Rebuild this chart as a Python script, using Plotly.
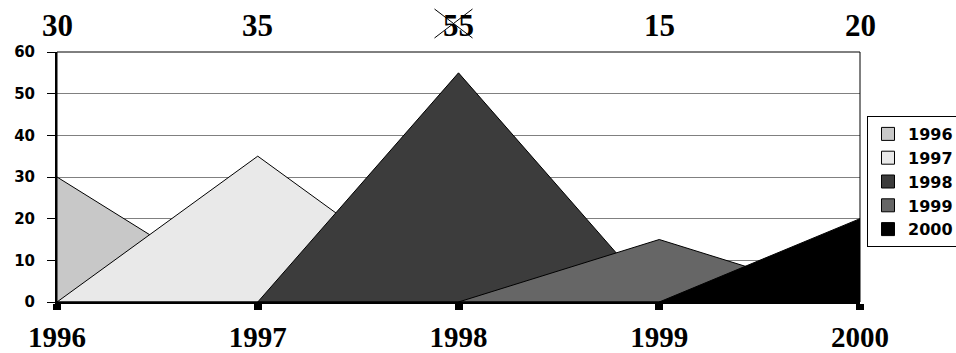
import plotly.graph_objects as go

years = [1996, 1997, 1998, 1999, 2000]
values = [30, 35, 55, 15, 20]
series_names = ["1996", "1997", "1998", "1999", "2000"]
colors = ["#c8c8c8", "#e9e9e9", "#3c3c3c", "#666666", "#000000"]
y_ticks = [0, 10, 20, 30, 40, 50, 60]

SERIF = "Liberation Serif, Times New Roman, serif"
SANS = "DejaVu Sans, Arial, sans-serif"

fig = go.Figure()

# each series is a triangle: zero at the previous year, peak at its year, zero at the next year
for i, (yr, v) in enumerate(zip(years, values)):
    fig.add_trace(go.Scatter(
        x=[yr - 1, yr, yr + 1, yr - 1],
        y=[0, v, 0, 0],
        mode="lines",
        fill="toself",
        fillcolor=colors[i],
        line=dict(color="#000000", width=1),
        showlegend=False,
        hoverinfo="skip",
    ))

# legend entries
for i, name in enumerate(series_names):
    fig.add_trace(go.Scatter(
        x=[None], y=[None], mode="markers", name=f"<b>{name}</b>",
        marker=dict(symbol="square", size=13, color=colors[i],
                    line=dict(color="#000000", width=1)),
    ))

# value labels above the plot
for yr, v in zip(years, values):
    fig.add_annotation(
        x=yr, y=1, xref="x", yref="paper",
        text=f"<b>{v}</b>", showarrow=False,
        yanchor="middle", yshift=27,
        font=dict(family=SERIF, size=31, color="#000000"),
    )

# cross drawn over the largest value label
peak_year = years[values.index(max(values))]
for (a0, a1) in [((-24, 43), (14, 14)), ((-24, 14), (14, 43))]:
    fig.add_shape(
        type="line", xref="x", yref="paper",
        xsizemode="pixel", ysizemode="pixel",
        xanchor=peak_year, yanchor=1,
        x0=a0[0], y0=a0[1], x1=a1[0], y1=a1[1],
        line=dict(color="#000000", width=1),
    )

# plot frame
fig.add_shape(type="rect", xref="paper", yref="paper", x0=0, y0=0, x1=1, y1=1,
              line=dict(color="#000000", width=1), layer="above")

fig.update_layout(
    width=956, height=353,
    margin=dict(l=57, r=96, t=52, b=51, autoexpand=False),
    paper_bgcolor="white", plot_bgcolor="white",
    xaxis=dict(
        range=[years[0], years[-1]],
        tickvals=years, ticktext=[f"<b>{y}</b>" for y in years],
        tickfont=dict(family=SERIF, size=29, color="#000000"),
        ticks="outside", ticklen=6, tickwidth=8, tickcolor="#000000",
        showline=True, linecolor="#000000", linewidth=2,
        showgrid=False, zeroline=False, ticklabelstandoff=2,
        automargin=False,
    ),
    yaxis=dict(
        range=[0, 60],
        tickvals=y_ticks, ticktext=[f"<b>{t}</b>" for t in y_ticks],
        tickfont=dict(family=SANS, size=15, color="#000000"),
        ticks="outside", ticklen=8, tickwidth=1, tickcolor="#000000",
        showline=True, linecolor="#000000", linewidth=2,
        showgrid=True, gridcolor="#808080", gridwidth=1,
        zeroline=False, ticklabelstandoff=9,
        automargin=False,
    ),
    legend=dict(
        xref="container", yref="container",
        x=867 / 956, xanchor="left",
        y=1 - 116 / 353, yanchor="top",
        bgcolor="white", bordercolor="#000000", borderwidth=1,
        font=dict(family=SANS, size=16, color="#000000"),
        itemwidth=30, tracegroupgap=0,
    ),
    showlegend=True,
)

fig.write_html("out.html")
